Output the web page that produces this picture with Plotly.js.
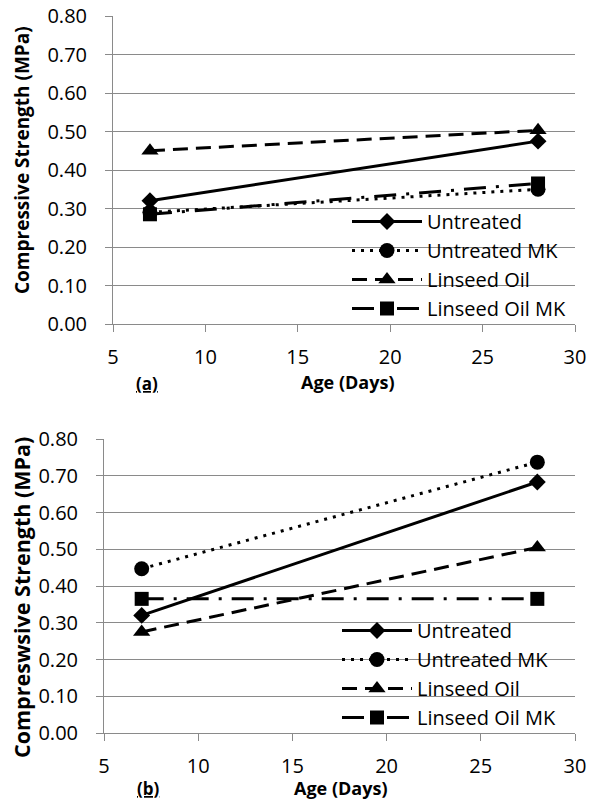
<!DOCTYPE html>
<html>
<head>
<meta charset="utf-8">
<script src="https://cdn.plot.ly/plotly-3.0.1.min.js"></script>
<style>html,body{margin:0;padding:0;background:#fff;}#chart{width:591px;height:800px;}</style>
</head>
<body>
<div id="chart"></div>
<script>
// ---- data ----
const ages = [7, 28];
const seriesNames = ['Untreated', 'Untreated MK', 'Linseed Oil', 'Linseed Oil MK'];
// panel (a)
const aUntreated = [0.32, 0.475];
const aUntreatedMK = [0.29, 0.35];
const aLinseed = [0.45, 0.503];
const aLinseedMK = [0.285, 0.365];
// panel (b)
const bUntreated = [0.32, 0.683];
const bUntreatedMK = [0.447, 0.737];
const bLinseed = [0.275, 0.505];
const bLinseedMK = [0.365, 0.365];
const xTickVals = [5, 10, 15, 20, 25, 30];
const yTickVals = [0, 0.1, 0.2, 0.3, 0.4, 0.5, 0.6, 0.7, 0.8];
const xTitle = 'Age (Days)';
const yTitleA = 'Compressive Strength (MPa)';
const yTitleB = 'Compreswsive Strength (MPa)';

// ---- styles ----
const FONT = 'Open Sans, sans-serif';
const GRID = '#8a8a8a';
const styles = [
  {dash: 'solid', symbol: 'diamond', size: 13},
  {dash: '3px,6px', symbol: 'circle', size: 15},
  {dash: '15px,8px', symbol: 'triangle-up', size: 15},
  {dash: '22px,10px,3px,10px', symbol: 'square', size: 14}
];

function mk(vals, i, xa, ya, leg) {
  return {
    x: ages, y: vals, name: seriesNames[i], type: 'scatter', mode: 'lines+markers',
    xaxis: xa, yaxis: ya, legend: leg, cliponaxis: false,
    line: {color: '#000', width: 3, dash: styles[i].dash},
    marker: {color: '#000', symbol: styles[i].symbol, size: styles[i].size}
  };
}

const data = [
  mk(aUntreated, 0, 'x', 'y', 'legend'),
  mk(aUntreatedMK, 1, 'x', 'y', 'legend'),
  mk(aLinseed, 2, 'x', 'y', 'legend'),
  mk(aLinseedMK, 3, 'x', 'y', 'legend'),
  mk(bUntreated, 0, 'x2', 'y2', 'legend2'),
  mk(bUntreatedMK, 1, 'x2', 'y2', 'legend2'),
  mk(bLinseed, 2, 'x2', 'y2', 'legend2'),
  mk(bLinseedMK, 3, 'x2', 'y2', 'legend2')
];

function xax(domain, anchor) {
  return {
    domain: domain, anchor: anchor, range: [5, 30], tickvals: xTickVals,
    showgrid: false, zeroline: false, showline: true, linecolor: GRID, linewidth: 1,
    ticks: 'outside', ticklen: 7, tickcolor: GRID, tickwidth: 1,
    ticklabelstandoff: 8,
    tickfont: {family: FONT, size: 20, color: '#000'}
  };
}
function yax(domain, anchor) {
  return {
    domain: domain, anchor: anchor, range: [0, 0.8], tickvals: yTickVals, tickformat: '.2f',
    showgrid: true, gridcolor: GRID, gridwidth: 1, zeroline: false,
    showline: true, linecolor: GRID, linewidth: 1,
    ticks: 'outside', ticklen: 7, tickcolor: GRID, tickwidth: 1,
    ticklabelstandoff: 14,
    tickfont: {family: FONT, size: 20, color: '#000'}
  };
}

const legendBase = {
  bgcolor: 'rgba(0,0,0,0)', borderwidth: 0,
  font: {family: FONT, size: 20, color: '#000'},
  itemwidth: 70, xanchor: 'left', yanchor: 'top', itemclick: false
};

function ann(text, x, y, size, angle) {
  return {text: text, xref: 'paper', yref: 'paper', x: x / 591, y: 1 - y / 800,
    xanchor: 'center', yanchor: 'middle', textangle: angle || 0, showarrow: false,
    font: {family: FONT, size: size, color: '#000'}};
}

const layout = {
  width: 591, height: 800,
  margin: {l: 0, r: 0, t: 0, b: 0},
  paper_bgcolor: '#fff', plot_bgcolor: '#fff',
  showlegend: true,
  xaxis: xax([113/591, 575/591], 'y'),
  yaxis: yax([1 - 324/800, 1 - 16/800], 'x'),
  xaxis2: xax([104/591, 575/591], 'y2'),
  yaxis2: yax([1 - 733/800, 1 - 439/800], 'x2'),
  legend: Object.assign({}, legendBase, {x: 347/591, y: 1 - 202/800}),
  legend2: Object.assign({}, legendBase, {x: 337/591, y: 1 - 611/800}),
  annotations: [
    ann('<b>' + yTitleA + '</b>', 22, 160, 19, -90),
    ann('<b>' + yTitleB + '</b>', 21, 598, 21.5, -90),
    ann('<b>' + xTitle + '</b>', 347, 382, 18),
    ann('<b>' + xTitle + '</b>', 340, 788, 18),
    ann('<b><u>(a)</u></b>', 147, 383, 17),
    ann('<b><u>(b)</u></b>', 148, 788, 17)
  ]
};

Plotly.newPlot('chart', data, layout, {staticPlot: true, displayModeBar: false});
</script>
</body>
</html>
